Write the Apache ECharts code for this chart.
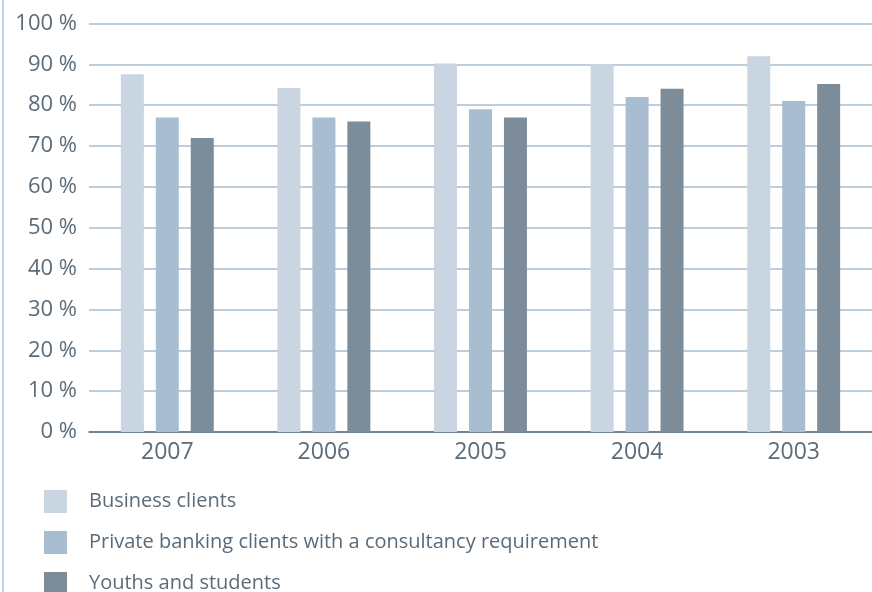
<!DOCTYPE html>
<html>
<head>
<meta charset="utf-8">
<script src="https://cdn.jsdelivr.net/npm/echarts@6/dist/echarts.min.js"></script>
<style>
  html, body { margin: 0; padding: 0; background: #fff; }
  #chart { width: 872px; height: 592px; }
</style>
</head>
<body>
<div id="chart"></div>
<script>
  // 数据
  const years = ['2007', '2006', '2005', '2004', '2003'];
  const businessClients = [87.6, 84.2, 90.2, 90, 92];
  const privateBanking = [77, 77, 79, 82, 81];
  const youthsStudents = [72, 76, 77, 84, 85.2];
  const seriesNames = [
    'Business clients',
    'Private banking clients with a consultancy requirement',
    'Youths and students'
  ];

  const textColor = '#5b6b78';
  const fontFamily = '"Open Sans", "Noto Sans", sans-serif';

  const chart = echarts.init(document.getElementById('chart'));

  function bar(name, data, color) {
    return {
      type: 'bar',
      name,
      data,
      barWidth: 23,
      barGap: '52%',
      itemStyle: { color },
      emphasis: { disabled: true }
    };
  }

  chart.setOption({
    animation: false,
    textStyle: { fontFamily },
    grid: { left: 89, right: 0, top: 23.5, bottom: 160 },
    graphic: [{
      type: 'line',
      shape: { x1: 3, y1: 0, x2: 3, y2: 592 },
      style: { stroke: '#b3c6d8', lineWidth: 1.5 }
    }],
    legend: {
      orient: 'vertical',
      left: 39,
      top: 485,
      height: 200,
      itemWidth: 23,
      itemHeight: 23,
      itemGap: 18,
      icon: 'rect',
      selectedMode: false,
      textStyle: { color: textColor, fontSize: 20, fontFamily, padding: [0, 0, 0, 17] },
      data: seriesNames
    },
    xAxis: {
      type: 'category',
      data: years,
      axisTick: { show: false },
      axisLine: { lineStyle: { color: '#5b6b78', width: 1.5 } },
      axisLabel: { color: textColor, fontSize: 23, margin: 9, fontFamily }
    },
    yAxis: {
      type: 'value',
      min: 0,
      max: 100,
      interval: 10,
      axisLine: { show: false },
      axisTick: { show: false },
      splitLine: { lineStyle: { color: '#a9bdd0', width: 1.5 } },
      axisLabel: { color: textColor, fontSize: 22, margin: 12, formatter: '{value} %', fontFamily }
    },
    series: [
      bar(seriesNames[0], businessClients, '#c9d5e0'),
      bar(seriesNames[1], privateBanking, '#a8bdd0'),
      bar(seriesNames[2], youthsStudents, '#7d8c99')
    ]
  });
</script>
</body>
</html>
